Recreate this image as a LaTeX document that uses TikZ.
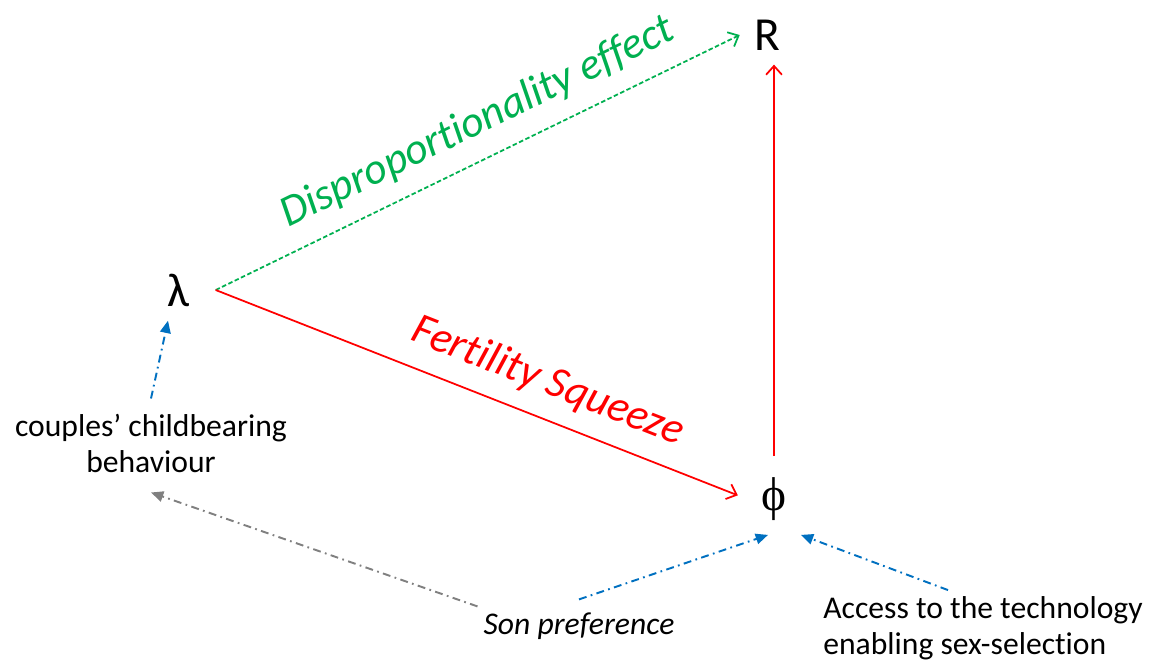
\documentclass[tikz,border=0pt]{standalone}
\usepackage{fontspec}
\setmainfont{Carlito}[Ligatures=NoCommon]
\newfontfamily\greekserif{Liberation Serif}
\usetikzlibrary{arrows.meta}
\definecolor{effgreen}{HTML}{00B050}
\definecolor{linkblue}{HTML}{0070C0}

\begin{document}
\begin{tikzpicture}[x=0.02cm,y=-0.02cm,>={Straight Barb[length=5pt,width=9pt]}]
  \tikzstyle{var}=[inner sep=8pt,font=\fontsize{27}{30}\selectfont]
  \tikzstyle{factor}=[align=center,font=\fontsize{18}{20.5}\selectfont]
  \tikzstyle{effect}=[line width=1pt,->]
  \tikzstyle{cause}=[-{Triangle[length=7pt,width=6pt]},line width=1.1pt,dash pattern=on 4.5pt off 2.5pt on 1pt off 2.5pt]
  \tikzstyle{tag}=[sloped,above=6pt,font=\fontsize{25}{28}\selectfont\itshape]
  \useasboundingbox (0,0) rectangle (1153,663);

    \node [var,inner xsep=15pt] (lambda) at (178,290) {λ};
    \node [var] (R) at (767,35) {R};
    \node [var] (phi) at (774,499) {\greekserif ϕ};
    \node [factor] (couples) at (151,443) {couples’ childbearing\\behaviour};
    \node [factor] (son) at (579,626) {\itshape Son preference};
    \node [factor,align=left] (access) at (983,628) {Access to the technology\\enabling sex-selection};

    % direct effects
    \draw [effect,effgreen,dash pattern=on 2.6pt off 1.4pt] (lambda.east) -- (R.west)
        node [tag,pos=0.53] (dispro) {Disproportionality effect};
    \draw [effect,red,shorten >=0.2cm] (lambda.east) -- (phi.west)
        node [tag,pos=0.6] (squeeze) {Fertility Squeeze};
    \draw [effect,red,shorten <=0.14cm] (phi.north) -- (phi.north |- R.south);

    % background factors
    \draw [cause,linkblue] ([yshift=0.18cm]couples.north) -- ([xshift=-0.2cm]lambda.south);
    \draw [cause,gray] (son.north west) -- ([yshift=-0.28cm]couples.south);
    \draw [cause,linkblue] ([yshift=0.14cm]son.north) -- ([xshift=-0.12cm]phi.south);
    \draw [cause,linkblue] ([xshift=-0.7cm]access.north) -- (phi.south east);
\end{tikzpicture}
\end{document}
